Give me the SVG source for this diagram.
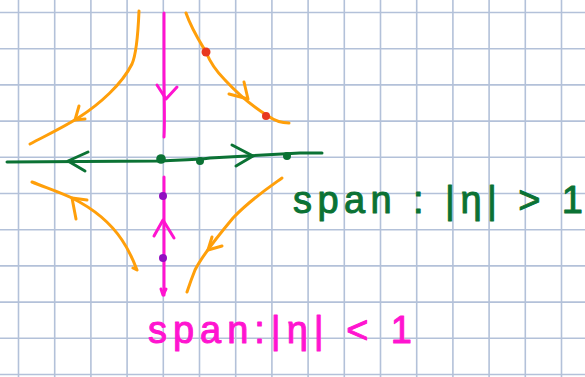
<svg xmlns="http://www.w3.org/2000/svg" width="585" height="377" viewBox="0 0 585 377">
<style>
.grid line{stroke:#b3c1d9;stroke-width:1.6}
.s{fill:none;stroke-linecap:round;stroke-linejoin:round}
.or{stroke:#ff9f0a;stroke-width:3}
.gr{stroke:#0b7234;stroke-width:3}
.mg{stroke:#ff14d0;stroke-width:3}
.t{font-family:"Liberation Sans","DejaVu Sans",sans-serif;font-size:38px;stroke-width:1;stroke-linejoin:round}
</style>
<rect width="585" height="377" fill="#ffffff"/>
<g class="grid">
<line x1="18.5" y1="0" x2="18.5" y2="377"/><line x1="54.7" y1="0" x2="54.7" y2="377"/><line x1="90.9" y1="0" x2="90.9" y2="377"/><line x1="127.1" y1="0" x2="127.1" y2="377"/><line x1="163.3" y1="0" x2="163.3" y2="377"/><line x1="199.5" y1="0" x2="199.5" y2="377"/><line x1="235.7" y1="0" x2="235.7" y2="377"/><line x1="271.9" y1="0" x2="271.9" y2="377"/><line x1="308.1" y1="0" x2="308.1" y2="377"/><line x1="344.3" y1="0" x2="344.3" y2="377"/><line x1="380.5" y1="0" x2="380.5" y2="377"/><line x1="416.7" y1="0" x2="416.7" y2="377"/><line x1="452.9" y1="0" x2="452.9" y2="377"/><line x1="489.1" y1="0" x2="489.1" y2="377"/><line x1="525.3" y1="0" x2="525.3" y2="377"/><line x1="561.5" y1="0" x2="561.5" y2="377"/>
<line x1="0" y1="12.5" x2="585" y2="12.5"/><line x1="0" y1="48.7" x2="585" y2="48.7"/><line x1="0" y1="84.9" x2="585" y2="84.9"/><line x1="0" y1="121.1" x2="585" y2="121.1"/><line x1="0" y1="157.3" x2="585" y2="157.3"/><line x1="0" y1="193.5" x2="585" y2="193.5"/><line x1="0" y1="229.7" x2="585" y2="229.7"/><line x1="0" y1="265.9" x2="585" y2="265.9"/><line x1="0" y1="302.1" x2="585" y2="302.1"/><line x1="0" y1="338.3" x2="585" y2="338.3"/><line x1="0" y1="374.5" x2="585" y2="374.5"/>
</g>
<g id="orange-curves" class="s or">
<path d="M139,11 C138,35 136,55 132,64 C122,84 100,104 78,118 C62,128 45,136 30,144"/>
<polyline points="79,106 75,120 85,119"/>
<path d="M186,13 C192,30 200,42 206,52 C210,62 215,70 225,80 C238,94 255,108 268,116 C275,121 282,123 289,123"/>
<polyline points="244,82 248,99 229,94"/>
<path d="M32,182 C50,189 62,193 72,198 C92,208 110,222 122,240 C130,252 134,262 137,270 L133,268"/>
<polyline points="76,219 72,198 87,200"/>
<path d="M282,178 C268,188 250,200 233,218 C218,236 202,256 195,270 C191,280 189,286 187,292"/>
<polyline points="212,237 208,250 222,246"/>
</g>
<g id="green-axis" class="s gr">
<path d="M7,162 L158,161 C175,160 195,160 210,158 L300,153 L322,153"/>
<polyline points="88,152 68,161 85,171"/>
<polyline points="232,145 253,156 236,166"/>
</g>
<g id="magenta-axis" class="s mg">
<path d="M164,13 L164,70 C164,100 165,120 164,137"/>
<polyline points="157,85 166,99 177,87"/>
<path d="M164,177 L164,295"/>
<polyline points="154,236 163,220 174,238"/>
<polyline points="161,289 163,295 166,289"/>
</g>
<g id="dots">
<circle cx="161" cy="159" r="4.8" fill="#0b7234"/>
<circle cx="200" cy="161" r="4" fill="#0b7234"/>
<circle cx="287" cy="156" r="4" fill="#0b7234"/>
<circle cx="206" cy="52" r="4.5" fill="#e8381f"/>
<circle cx="266" cy="116" r="4" fill="#e8381f"/>
<circle cx="163" cy="196" r="4" fill="#9010c0"/>
<circle cx="163" cy="258" r="4" fill="#9010c0"/>
</g>
<g id="label-green">
<text class="t" x="293" y="213" fill="#0b7234" stroke="#0b7234" textLength="290" lengthAdjust="spacing">span : |η| &gt; 1</text>
</g>
<g id="label-magenta">
<text class="t" x="148" y="343" fill="#ff14d0" stroke="#ff14d0" textLength="264" lengthAdjust="spacing">span:|η| &lt; 1</text>
</g>
</svg>
